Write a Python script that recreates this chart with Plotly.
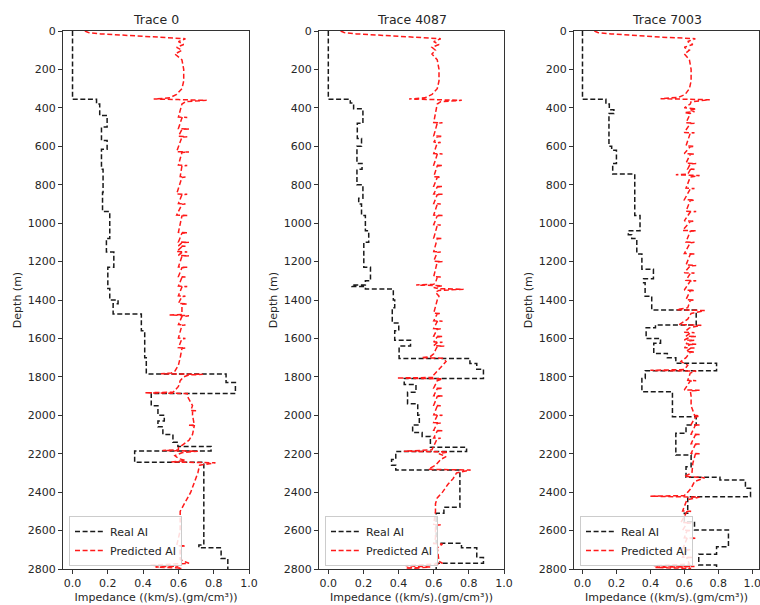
import plotly.graph_objects as go

# ---------------- data ----------------
TITLES = ["Trace 0", "Trace 4087", "Trace 7003"]
X_TICKS = [0.0, 0.2, 0.4, 0.6, 0.8, 1.0]
Y_TICKS = [0, 200, 400, 600, 800, 1000, 1200, 1400, 1600, 1800, 2000, 2200, 2400, 2600, 2800]
DEPTH_MAX = 2800

# Real AI: depth at top of each block and block value (blocky log)
R0_top = [0, 355, 380, 440, 500, 570, 615, 720, 840, 940, 1080, 1150, 1230, 1340, 1400, 1420, 1473, 1560,
          1700, 1785, 1830, 1886, 1950, 2000, 2030, 2060, 2100, 2140, 2163, 2186, 2245, 2675, 2690, 2745]
R0_val = [0.0, 0.136, 0.154, 0.196, 0.164, 0.196, 0.164, 0.173, 0.17, 0.211, 0.192, 0.234, 0.20, 0.211,
          0.258, 0.23, 0.39, 0.409, 0.418, 0.87, 0.923, 0.446, 0.484, 0.52, 0.484, 0.512, 0.569, 0.597,
          0.785, 0.352, 0.744, 0.716, 0.842, 0.88]

R1_top = [0, 355, 375, 405, 480, 560, 600, 690, 720, 800, 870, 900, 960, 1040, 1100, 1230, 1300, 1322,
          1330, 1343, 1400, 1440, 1520, 1560, 1610, 1640, 1704, 1730, 1760, 1808, 1840, 1880, 1940, 2000,
          2050, 2090, 2110, 2167, 2189, 2230, 2260, 2285, 2479, 2510, 2666, 2690, 2740, 2770]
R1_val = [0.0, 0.125, 0.144, 0.197, 0.165, 0.189, 0.163, 0.192, 0.163, 0.197, 0.173, 0.189, 0.211, 0.23,
          0.202, 0.24, 0.211, 0.134, 0.211, 0.37, 0.378, 0.364, 0.401, 0.378, 0.468, 0.403, 0.806, 0.845,
          0.883, 0.432, 0.499, 0.451, 0.509, 0.518, 0.48, 0.534, 0.581, 0.787, 0.384, 0.36, 0.384, 0.749,
          0.658, 0.614, 0.758, 0.845, 0.883, 0.614]

R2_top = [0, 355, 380, 410, 430, 600, 620, 690, 744, 960, 1040, 1060, 1080, 1160, 1240, 1290, 1310, 1380,
          1452, 1530, 1545, 1600, 1625, 1678, 1700, 1729, 1768, 1808, 1877, 2007, 2051, 2094, 2207, 2268,
          2323, 2337, 2380, 2424, 2510, 2554, 2597, 2684, 2723, 2779]
R2_val = [0.0, 0.138, 0.158, 0.185, 0.156, 0.172, 0.20, 0.178, 0.308, 0.339, 0.27, 0.29, 0.32, 0.35,
          0.418, 0.36, 0.369, 0.408, 0.67, 0.43, 0.375, 0.46, 0.42, 0.50, 0.55, 0.79, 0.37, 0.35, 0.53,
          0.67, 0.61, 0.55, 0.64, 0.61, 0.81, 0.96, 0.99, 0.62, 0.60, 0.66, 0.86, 0.79, 0.685, 0.79]

# Predicted AI (noisy network output)
P0_depth = [
    0, 8, 15, 20, 25, 32, 40, 55, 70, 85, 100, 120, 150, 200, 260, 300, 330, 348, 354, 357, 361, 368, 380,
    448, 450, 452, 508, 510, 512, 548, 550, 552, 628, 630, 632, 698, 700, 702, 758, 760, 762,
    848, 850, 852, 898, 900, 902, 958, 960, 962, 1048, 1050, 1052, 1098, 1100, 1102, 1118, 1120, 1122,
    1148, 1150, 1152, 1168, 1170, 1172, 1228, 1230, 1232, 1278, 1280, 1282, 1328, 1330, 1332,
    1378, 1380, 1382, 1418, 1420, 1422, 1476, 1478, 1482, 1486, 1528, 1530, 1532, 1598, 1600, 1602,
    1648, 1650, 1652, 1700, 1740, 1770, 1780, 1784, 1787, 1790, 1800, 1820, 1850, 1870, 1880, 1883, 1887,
    1900, 1950, 1975, 1977, 1979, 2000, 2050, 2052, 2054, 2100, 2130, 2150, 2170, 2180, 2183, 2187,
    2195, 2210, 2225, 2235, 2243, 2247, 2260, 2300, 2350, 2400, 2450, 2480, 2500, 2600, 2678, 2680, 2682,
    2700, 2750, 2760, 2770, 2775, 2780, 2785, 2790, 2795, 2800]
P0_value = [
    0.07, 0.09, 0.16, 0.26, 0.30, 0.45, 0.64, 0.60, 0.63, 0.59, 0.62, 0.58, 0.62, 0.63, 0.63, 0.62, 0.59, 0.55, 0.46, 0.60, 0.76, 0.64, 0.62,
    0.60, 0.65, 0.62, 0.60, 0.66, 0.62, 0.60, 0.65, 0.62, 0.59, 0.66, 0.62, 0.60, 0.65, 0.62, 0.61, 0.64, 0.62,
    0.59, 0.65, 0.62, 0.60, 0.64, 0.62, 0.59, 0.65, 0.62, 0.60, 0.65, 0.62, 0.60, 0.66, 0.62, 0.60, 0.64, 0.62,
    0.59, 0.65, 0.62, 0.60, 0.66, 0.62, 0.60, 0.65, 0.62, 0.60, 0.64, 0.62, 0.60, 0.65, 0.62,
    0.60, 0.64, 0.62, 0.60, 0.65, 0.62, 0.62, 0.55, 0.66, 0.62, 0.60, 0.64, 0.62, 0.60, 0.64, 0.62,
    0.60, 0.64, 0.62, 0.61, 0.60, 0.58, 0.56, 0.50, 0.74, 0.66, 0.63, 0.61, 0.60, 0.58, 0.57, 0.41, 0.65,
    0.65, 0.68, 0.67, 0.70, 0.68, 0.68, 0.69, 0.66, 0.69, 0.68, 0.66, 0.63, 0.60, 0.60, 0.51, 0.71,
    0.62, 0.58, 0.60, 0.64, 0.56, 0.81, 0.72, 0.71, 0.69, 0.67, 0.64, 0.62, 0.61, 0.61, 0.59, 0.64, 0.61,
    0.61, 0.61, 0.63, 0.66, 0.55, 0.44, 0.60, 0.47, 0.62, 0.60]

P1_depth = [
    0, 8, 15, 20, 25, 32, 40, 55, 70, 85, 100, 120, 150, 200, 260, 300, 330, 348, 354, 357, 361, 368, 380,
    476, 478, 480, 546, 548, 550, 578, 580, 582, 638, 640, 642, 698, 700, 702, 758, 760, 762,
    808, 810, 812, 848, 850, 852, 898, 900, 902, 958, 960, 962, 1008, 1010, 1012, 1078, 1080, 1082,
    1148, 1150, 1152, 1198, 1200, 1202, 1278, 1280, 1282, 1310, 1318, 1322, 1326, 1335, 1341, 1344, 1350, 1360, 1380, 1400,
    1468, 1470, 1472, 1508, 1510, 1512, 1548, 1550, 1552, 1588, 1590, 1592, 1618, 1620, 1622, 1638, 1640, 1642,
    1660, 1680, 1695, 1700, 1703, 1720, 1760, 1790, 1803, 1806, 1810, 1820,
    1858, 1860, 1862, 1898, 1900, 1902, 1948, 1950, 1952, 1998, 2000, 2002, 2038, 2040, 2042, 2078, 2080, 2082, 2118, 2120, 2122,
    2160, 2180, 2187, 2191, 2200, 2215, 2230, 2260, 2275, 2281, 2285, 2300, 2330, 2360, 2400, 2430, 2460, 2500,
    2568, 2570, 2572, 2640, 2668, 2670, 2690, 2760, 2770, 2775, 2782, 2790, 2795, 2800]
P1_value = [
    0.07, 0.09, 0.16, 0.26, 0.30, 0.45, 0.64, 0.60, 0.63, 0.59, 0.61, 0.59, 0.62, 0.63, 0.63, 0.62, 0.59, 0.55, 0.46, 0.60, 0.76, 0.64, 0.62,
    0.60, 0.65, 0.62, 0.60, 0.65, 0.62, 0.60, 0.64, 0.62, 0.60, 0.65, 0.62, 0.60, 0.65, 0.62, 0.60, 0.64, 0.62,
    0.60, 0.65, 0.62, 0.60, 0.65, 0.62, 0.60, 0.64, 0.62, 0.60, 0.65, 0.62, 0.60, 0.64, 0.62, 0.60, 0.65, 0.62,
    0.60, 0.64, 0.62, 0.60, 0.65, 0.62, 0.60, 0.64, 0.62, 0.61, 0.60, 0.50, 0.65, 0.60, 0.63, 0.77, 0.63, 0.61, 0.63, 0.62,
    0.60, 0.64, 0.62, 0.60, 0.65, 0.62, 0.60, 0.64, 0.62, 0.60, 0.65, 0.62, 0.60, 0.65, 0.62, 0.60, 0.66, 0.62,
    0.61, 0.60, 0.58, 0.53, 0.65, 0.67, 0.63, 0.60, 0.60, 0.39, 0.65, 0.62,
    0.60, 0.65, 0.62, 0.60, 0.65, 0.62, 0.60, 0.64, 0.62, 0.60, 0.65, 0.62, 0.60, 0.64, 0.62, 0.60, 0.65, 0.62, 0.60, 0.64, 0.62,
    0.60, 0.59, 0.43, 0.68, 0.63, 0.67, 0.64, 0.61, 0.58, 0.57, 0.81, 0.73, 0.71, 0.68, 0.65, 0.62, 0.61, 0.61,
    0.60, 0.64, 0.61, 0.61, 0.60, 0.65, 0.62, 0.63, 0.65, 0.60, 0.44, 0.58, 0.44, 0.53]

P2_depth = [
    0, 8, 15, 20, 25, 32, 40, 55, 70, 85, 100, 120, 150, 200, 260, 300, 330, 345, 352, 355, 358, 368, 380,
    400, 405, 410, 420, 425, 430,
    478, 480, 482, 528, 530, 532, 598, 600, 602, 638, 640, 642, 688, 690, 692, 718, 720, 722,
    745, 748, 752, 760,
    818, 820, 822, 878, 880, 882, 938, 940, 942, 988, 990, 992, 1038, 1040, 1042, 1098, 1100, 1102,
    1158, 1160, 1162, 1218, 1220, 1222, 1258, 1260, 1262, 1298, 1300, 1302, 1348, 1350, 1352, 1398, 1400, 1402,
    1440, 1450, 1455, 1470, 1500, 1528, 1532, 1545,
    1568, 1570, 1572, 1588, 1590, 1592, 1608, 1610, 1612, 1628, 1630, 1632, 1648, 1650, 1652, 1668, 1670, 1672,
    1700, 1720, 1740, 1762, 1766, 1770, 1780,
    1818, 1820, 1822, 1868, 1870, 1872, 1900, 1950, 2000, 2003, 2010,
    2048, 2050, 2052, 2098, 2100, 2102, 2148, 2150, 2152, 2198, 2200, 2202,
    2250, 2300, 2318, 2325, 2345, 2380, 2400, 2418, 2421, 2426, 2440,
    2498, 2500, 2502, 2558, 2560, 2562, 2598, 2600, 2602, 2638, 2640, 2642, 2698, 2700, 2702, 2738, 2740, 2742,
    2775, 2782, 2787, 2792, 2797, 2800]
P2_value = [
    0.07, 0.09, 0.17, 0.26, 0.31, 0.47, 0.665, 0.62, 0.65, 0.60, 0.63, 0.60, 0.63, 0.64, 0.64, 0.63, 0.605, 0.566, 0.46, 0.60, 0.75, 0.64, 0.635,
    0.60, 0.67, 0.63, 0.66, 0.60, 0.635,
    0.61, 0.66, 0.635, 0.60, 0.66, 0.635, 0.61, 0.66, 0.635, 0.60, 0.66, 0.635, 0.61, 0.67, 0.635, 0.62, 0.66, 0.635,
    0.62, 0.55, 0.69, 0.635,
    0.61, 0.66, 0.635, 0.60, 0.66, 0.635, 0.61, 0.67, 0.635, 0.60, 0.66, 0.635, 0.59, 0.67, 0.635, 0.61, 0.66, 0.635,
    0.60, 0.66, 0.635, 0.61, 0.67, 0.635, 0.60, 0.66, 0.635, 0.61, 0.67, 0.635, 0.60, 0.66, 0.635, 0.61, 0.66, 0.635,
    0.62, 0.555, 0.72, 0.64, 0.62, 0.57, 0.70, 0.63,
    0.60, 0.66, 0.635, 0.61, 0.67, 0.635, 0.60, 0.66, 0.635, 0.61, 0.67, 0.635, 0.60, 0.66, 0.635, 0.61, 0.66, 0.635,
    0.61, 0.58, 0.62, 0.60, 0.40, 0.67, 0.635,
    0.62, 0.67, 0.635, 0.60, 0.69, 0.635, 0.64, 0.64, 0.66, 0.69, 0.665,
    0.64, 0.69, 0.665, 0.64, 0.69, 0.665, 0.64, 0.69, 0.665, 0.64, 0.69, 0.665,
    0.65, 0.645, 0.60, 0.72, 0.66, 0.64, 0.62, 0.60, 0.40, 0.69, 0.615,
    0.59, 0.64, 0.615, 0.58, 0.64, 0.615, 0.59, 0.64, 0.615, 0.60, 0.67, 0.615, 0.59, 0.64, 0.615, 0.59, 0.65, 0.615,
    0.63, 0.42, 0.66, 0.43, 0.64, 0.60]

# ---------------- figure ----------------
W, H = 760, 605
FONT = "DejaVu Sans"
TXT = "#262626"

panels = [
    (R0_top, R0_val, P0_depth, P0_value),
    (R1_top, R1_val, P1_depth, P1_value),
    (R2_top, R2_val, P2_depth, P2_value),
]
# plot frames in pixels (left, right); shared top/bottom
frames_px = [(63, 249), (319, 504), (574, 759)]
x_ranges = [[-0.054, 1.0], [-0.053, 1.0], [-0.05, 1.04]]
top_px, bot_px = 31, 569

fig = go.Figure()
for i, (rt, rv, pd_, pv) in enumerate(panels):
    sfx = "" if i == 0 else str(i + 1)
    lg = "legend" + sfx
    ry = list(rt) + [DEPTH_MAX]
    rx = list(rv) + [rv[-1]]
    fig.add_trace(go.Scatter(
        x=rx, y=ry, mode="lines", line_shape="vh", name="Real AI",
        line=dict(color="#1a1a1a", width=1.5, dash="5px,2.6px"),
        xaxis="x" + sfx, yaxis="y" + sfx, legend=lg, hoverinfo="skip"))
    fig.add_trace(go.Scatter(
        x=pv, y=pd_, mode="lines", name="Predicted AI",
        line=dict(color="#ff1a1a", width=1.5, dash="5px,2.6px"),
        xaxis="x" + sfx, yaxis="y" + sfx, legend=lg, hoverinfo="skip"))

layout = dict(
    width=W, height=H, margin=dict(l=0, r=0, t=0, b=0),
    paper_bgcolor="white", plot_bgcolor="white",
    font=dict(family=FONT, size=11, color=TXT),
    template="none", showlegend=True,
)
ydom = [1 - bot_px / H, 1 - top_px / H]
annotations = []
for i, (l, r) in enumerate(frames_px):
    sfx = "" if i == 0 else str(i + 1)
    layout["xaxis" + sfx] = dict(
        domain=[l / W, r / W], range=x_ranges[i], anchor="y" + sfx,
        tickmode="array", tickvals=X_TICKS, ticktext=[f"{v:.1f}" for v in X_TICKS],
        ticklabeloverflow="allow",
        showline=True, mirror=True, linecolor="#333", linewidth=1,
        ticks="outside", ticklen=4, tickcolor="#333", showgrid=False, zeroline=False,
        tickfont=dict(size=11, color=TXT), automargin=False,
        title=dict(text="Impedance ((km/s).(gm/cm³))", font=dict(size=11, color=TXT), standoff=4),
    )
    layout["yaxis" + sfx] = dict(
        domain=ydom, range=[DEPTH_MAX, 0], anchor="x" + sfx,
        tickmode="array", tickvals=Y_TICKS,
        showline=True, mirror=True, linecolor="#333", linewidth=1,
        ticks="outside", ticklen=4, tickcolor="#333", showgrid=False, zeroline=False,
        tickfont=dict(size=11, color=TXT), automargin=False,
        title=dict(text="Depth (m)", font=dict(size=11, color=TXT), standoff=3),
    )
    layout["legend" + sfx] = dict(
        x=(l + 6) / W, y=1 - 566 / H, xanchor="left", yanchor="bottom",
        bgcolor="rgba(255,255,255,0.85)", bordercolor="#cccccc", borderwidth=1,
        font=dict(size=11, color=TXT), tracegroupgap=0, itemwidth=30,
    )
    annotations.append(dict(
        text=TITLES[i], x=(l + r) / 2 / W, y=1 - 19 / H, xref="paper", yref="paper",
        showarrow=False, xanchor="center", yanchor="middle",
        font=dict(size=12.5, color=TXT)))
layout["annotations"] = annotations
fig.update_layout(**layout)

fig.write_html("out.html")
